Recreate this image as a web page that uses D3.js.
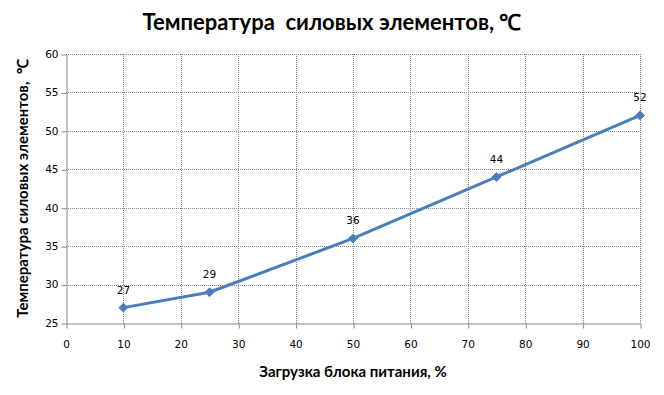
<!DOCTYPE html>
<html>
<head>
<meta charset="utf-8">
<script src="https://cdn.jsdelivr.net/npm/d3@7"></script>
<style>
    body { margin: 0; background: #fff; }
    svg { display: block; }
    .tick text { font-family: "DejaVu Sans", Verdana, sans-serif; font-size: 10.5px; fill: #000; }
    .lbl { font-family: "DejaVu Sans", Verdana, sans-serif; font-size: 10.5px; fill: #000; }
    .ttl { font-family: Lato, "Open Sans", sans-serif; font-weight: bold; fill: #000; white-space: pre; }
</style>
</head>
<body>
<div id="chart"></div>
<script>
var load = [10, 25, 50, 75, 100];
var temp = [27, 29, 36, 44, 52];
var x_ticks = [0, 10, 20, 30, 40, 50, 60, 70, 80, 90, 100];
var y_ticks = [25, 30, 35, 40, 45, 50, 55, 60];

var title = 'Температура  силовых элементов, ℃';
var x_title = 'Загрузка блока питания, %';
var y_title = 'Температура силовых элементов,  ℃';

var width = 664, height = 395;
var margin = { top: 54, right: 24, bottom: 72, left: 66 };

var svg = d3.select('#chart').append('svg')
    .attr('width', width)
    .attr('height', height);

var xscale = d3.scaleLinear()
    .domain([0, 100])
    .range([margin.left, width - margin.right]);
var yscale = d3.scaleLinear()
    .domain([25, 60])
    .range([height - margin.bottom, margin.top]);

// grid
svg.append('g')
    .selectAll('line.h')
    .data(y_ticks.filter(d => d > 25))
    .enter().append('line')
        .attr('x1', xscale(0)).attr('x2', xscale(100))
        .attr('y1', d => Math.round(yscale(d)) + 0.5)
        .attr('y2', d => Math.round(yscale(d)) + 0.5)
        .attr('stroke', '#868686')
        .attr('stroke-dasharray', '1,1');

svg.append('g')
    .selectAll('line.v')
    .data(x_ticks.filter(d => d > 0))
    .enter().append('line')
        .attr('x1', d => Math.round(xscale(d)) + 0.5)
        .attr('x2', d => Math.round(xscale(d)) + 0.5)
        .attr('y1', yscale(60)).attr('y2', yscale(25))
        .attr('stroke', '#868686')
        .attr('stroke-dasharray', '1,1');

// axes
var xaxis = svg.append('g')
    .attr('transform', 'translate(0,' + (Math.round(yscale(25)) + 0.5) + ')')
    .call(d3.axisBottom(xscale).tickValues(x_ticks).tickSize(5).tickPadding(12).tickSizeOuter(0));
var yaxis = svg.append('g')
    .attr('transform', 'translate(' + (Math.round(xscale(0)) + 0.5) + ',0)')
    .call(d3.axisLeft(yscale).tickValues(y_ticks).tickSize(5).tickPadding(3).tickSizeOuter(0));

[xaxis, yaxis].forEach(function (ax) {
    ax.select('.domain').attr('stroke', '#868686');
    ax.selectAll('.tick line').attr('stroke', '#868686');
    ax.selectAll('.tick text').attr('fill', '#000');
});
xaxis.selectAll('.tick line').attr('transform', 'translate(0.5,0)');
yaxis.selectAll('.tick line').attr('transform', 'translate(0,0.5)');

// series
var data = load.map((d, i) => ({ x: d, y: temp[i] }));

svg.append('path')
    .datum(data)
    .attr('fill', 'none')
    .attr('stroke', '#4a7ebb')
    .attr('stroke-width', 3)
    .attr('stroke-linejoin', 'round')
    .attr('d', d3.line().x(d => xscale(d.x)).y(d => yscale(d.y)));

svg.append('g')
    .selectAll('path')
    .data(data)
    .enter().append('path')
        .attr('d', d3.symbol().type(d3.symbolDiamond2).size(50))
        .attr('transform', d => 'translate(' + xscale(d.x) + ',' + yscale(d.y) + ')')
        .attr('fill', '#4a7ebb')
        .attr('stroke', '#4a7ebb');

svg.append('g')
    .selectAll('text')
    .data(data)
    .enter().append('text')
        .attr('class', 'lbl')
        .attr('x', d => xscale(d.x))
        .attr('y', d => yscale(d.y) - 14)
        .attr('text-anchor', 'middle')
        .text(d => d.y);

// titles
svg.append('text')
    .attr('class', 'ttl')
    .attr('x', width / 2)
    .attr('y', 30)
    .attr('text-anchor', 'middle')
    .style('font-size', '22px')
    .text(title);

svg.append('text')
    .attr('class', 'ttl')
    .attr('x', (xscale(0) + xscale(100)) / 2)
    .attr('y', 377)
    .attr('text-anchor', 'middle')
    .style('font-size', '15px')
    .text(x_title);

svg.append('text')
    .attr('class', 'ttl')
    .attr('transform', 'translate(28,' + (yscale(25) + yscale(60)) / 2 + ') rotate(-90)')
    .attr('text-anchor', 'middle')
    .style('font-size', '15px')
    .text(y_title);
</script>
</body>
</html>
